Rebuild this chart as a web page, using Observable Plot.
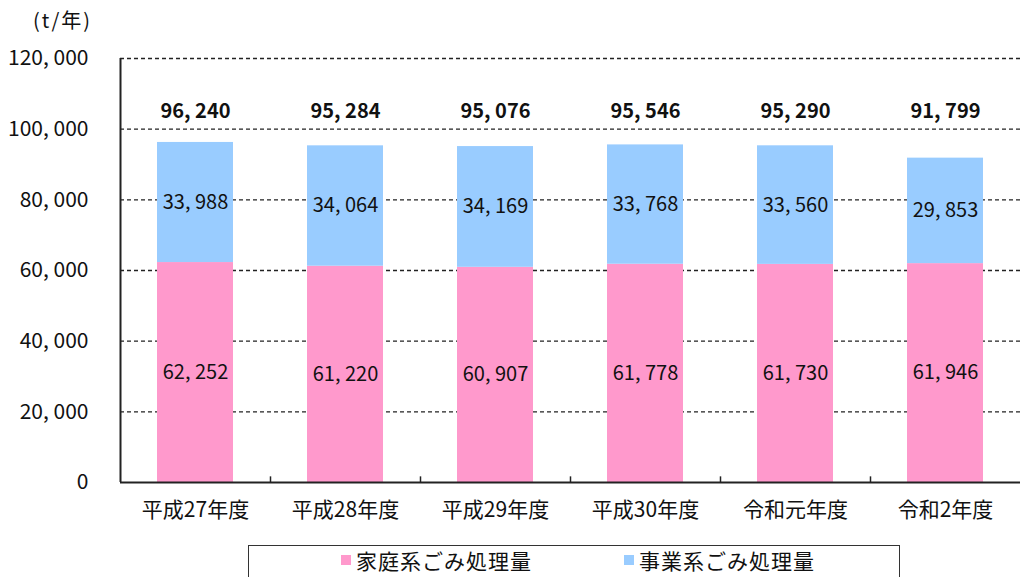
<!DOCTYPE html>
<html>
<head>
<meta charset="utf-8">
<script src="https://cdn.jsdelivr.net/npm/d3@7"></script>
<script src="https://cdn.jsdelivr.net/npm/@observablehq/plot@0.6"></script>
<style>
  body { margin: 0; background: #fff; font-family: "Noto Sans CJK JP", sans-serif; color: #111; }
  #wrap { width: 1027px; height: 577px; overflow: hidden; }
  #unit { height: 40px; box-sizing: border-box; padding: 6px 0 0 33px; font-size: 20px; letter-spacing: 2px; line-height: 28px; }
  #legend { margin-left: 248px; margin-top: 5px; width: 652px; height: 32px; box-sizing: border-box;
            border: 1.5px solid #333; border-bottom: none; position: relative; font-size: 21px; }
  .item { position: absolute; top: 0px; display: flex; align-items: center; letter-spacing: 1px; line-height: 28px; }
  .sw { width: 10px; height: 10px; margin-right: 5px; }
</style>
</head>
<body>
<div id="wrap">
  <div id="unit">(t/年)</div>
  <div id="chart"></div>
  <div id="legend"></div>
</div>
<script>
const categories = ["平成27年度", "平成28年度", "平成29年度", "平成30年度", "令和元年度", "令和2年度"];
const seriesNames = ["家庭系ごみ処理量", "事業系ごみ処理量"];
const household = [62252, 61220, 60907, 61778, 61730, 61946];
const business = [33988, 34064, 34169, 33768, 33560, 29853];
const totals = [96240, 95284, 95076, 95546, 95290, 91799];
const yTicks = [0, 20000, 40000, 60000, 80000, 100000, 120000];
const colors = ["#FF99CC", "#99CCFF"];

const fmt = v => d3.format(",")(v).replace(",", ", ");

const rows = [];
categories.forEach((c, i) => {
  rows.push({year: c, type: seriesNames[0], value: household[i]});
  rows.push({year: c, type: seriesNames[1], value: business[i]});
});
const totalRows = categories.map((c, i) => ({year: c, total: totals[i]}));

const font = "Noto Sans CJK JP";
const chart = Plot.plot({
  width: 1027,
  height: 500,
  marginLeft: 120,
  marginRight: 7,
  marginTop: 18,
  marginBottom: 58,
  style: {fontFamily: font, background: "#fff", color: "#111"},
  x: {domain: categories, padding: 0},
  y: {domain: [0, 120000]},
  color: {domain: seriesNames, range: colors},
  marks: [
    Plot.ruleY(yTicks.filter(d => d > 0), {stroke: "#222", strokeWidth: 1.3, strokeDasharray: "4,3"}),
    Plot.barY(rows, {x: "year", y: "value", fill: "type", order: seriesNames, insetLeft: 37, insetRight: 37}),
    Plot.text(rows, Plot.stackY({x: "year", y: "value", z: "type", order: seriesNames,
      text: d => fmt(d.value), fontSize: 20, fill: "#111"})),
    Plot.text(totalRows, {x: "year", text: d => fmt(d.total), frameAnchor: "top", dy: 45,
      fontSize: 20, fontWeight: 600, fill: "#111"}),
    Plot.ruleY([0], {stroke: "#222", strokeWidth: 2}),
    Plot.ruleX([categories[0]], {dx: -75, y1: 0, y2: 120000, stroke: "#222", strokeWidth: 2}),
    Plot.ruleX(categories.slice(1), {dx: -75, y1: 0, y2: 1600, stroke: "#222", strokeWidth: 1.5}),
    Plot.axisY({ticks: yTicks, tickSize: 0, tickPadding: 32, tickFormat: fmt, fontSize: 21, label: null}),
    Plot.axisX({tickSize: 0, tickPadding: 20, fontSize: 21, label: null})
  ]
});
document.getElementById("chart").appendChild(chart);

const legend = document.getElementById("legend");
const legendX = [92, 375];
seriesNames.forEach((name, i) => {
  const it = document.createElement("div");
  it.className = "item";
  it.style.left = legendX[i] + "px";
  const sw = document.createElement("span");
  sw.className = "sw";
  sw.style.background = colors[i];
  const tx = document.createElement("span");
  tx.textContent = name;
  it.appendChild(sw);
  it.appendChild(tx);
  legend.appendChild(it);
});
</script>
</body>
</html>
